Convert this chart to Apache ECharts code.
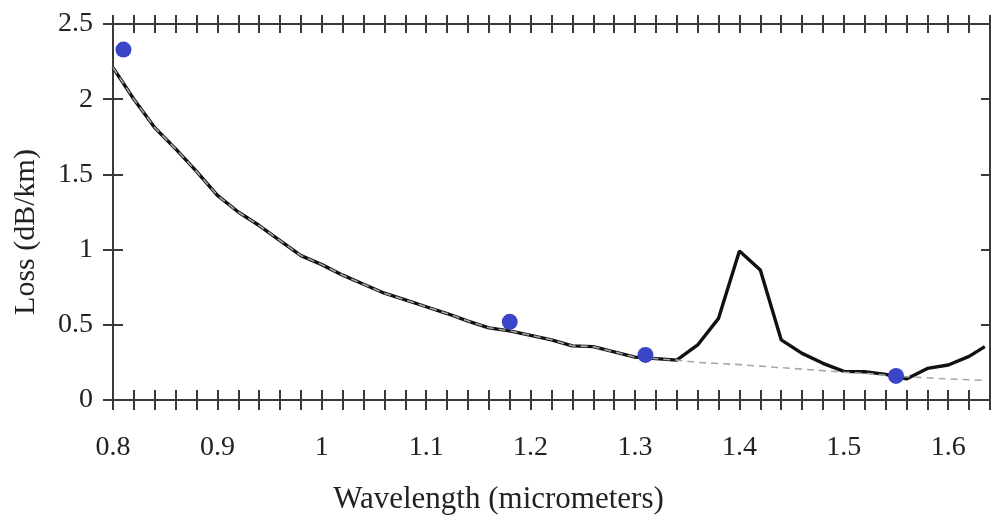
<!DOCTYPE html>
<html>
<head>
<meta charset="utf-8">
<script src="https://cdn.jsdelivr.net/npm/echarts@6/dist/echarts.min.js"></script>
<style>
html,body{margin:0;padding:0;background:#fff;}
#chart{width:993px;height:527px;}
</style>
</head>
<body>
<div id="chart"></div>
<script>
// Wavelength samples (micrometers)
var wavelength = [0.80,0.82,0.84,0.86,0.88,0.90,0.92,0.94,0.96,0.98,1.00,1.02,1.04,1.06,1.08,1.10,1.12,1.14,1.16,1.18,1.20,1.22,1.24,1.26,1.28,1.30,1.32,1.34,1.36,1.38,1.40,1.42,1.44,1.46,1.48,1.50,1.52,1.54,1.56,1.58,1.60,1.62,1.635];
// Measured fibre loss (dB/km)
var lossMeasured = [2.21,2.00,1.81,1.67,1.52,1.36,1.25,1.16,1.06,0.96,0.90,0.83,0.77,0.71,0.665,0.62,0.575,0.525,0.48,0.46,0.43,0.40,0.36,0.355,0.32,0.285,0.275,0.265,0.366,0.543,0.99,0.864,0.40,0.31,0.244,0.19,0.188,0.17,0.14,0.21,0.233,0.29,0.355];
// Scattering baseline (dB/km), dashed grey
var lossBaseline = [2.21,2.00,1.81,1.67,1.52,1.36,1.25,1.16,1.06,0.96,0.90,0.83,0.77,0.71,0.665,0.62,0.575,0.525,0.48,0.46,0.43,0.40,0.36,0.355,0.32,0.285,0.275,0.265,0.25,0.243,0.235,0.225,0.215,0.205,0.195,0.185,0.177,0.165,0.155,0.147,0.14,0.135,0.13];
// Highlighted points
var dotWavelength = [0.81,1.18,1.31,1.55];
var dotLoss = [2.33,0.52,0.30,0.16];
// Axis settings
var xMin = 0.8, xMax = 1.64, xStep = 0.02;
var yMin = 0, yMax = 2.5, yStep = 0.5;

function pairs(xs, ys){ return xs.map(function(x,i){ return [x, ys[i]]; }); }

var FONT = 'Liberation Serif';
var AX = '#3a3a3a';
function xLabel(v){
  var h = Math.round(v*100);
  if (h % 10 !== 0) return '';
  return String(Math.round(v*10)/10);
}

var chart = echarts.init(document.getElementById('chart'), null, {renderer:'canvas'});
var xBase = {type:'value', min:xMin, max:xMax, interval:xStep, splitLine:{show:false}};
var yBase = {type:'value', min:yMin, max:yMax, interval:yStep, splitLine:{show:false}};
chart.setOption({
  animation:false,
  backgroundColor:'#fff',
  grid:{left:113, right:3, top:24, bottom:127, containLabel:false},
  xAxis:[
    Object.assign({}, xBase, {position:'bottom',
      axisLine:{show:true, onZero:false, lineStyle:{color:AX, width:2}},
      axisTick:{show:true, inside:false, length:10, lineStyle:{color:AX, width:2}},
      axisLabel:{show:true, margin:34, formatter:xLabel, color:'#222', fontFamily:FONT, fontSize:28},
      name:'Wavelength (micrometers)', nameLocation:'middle', nameGap:84,
      nameTextStyle:{color:'#222', fontFamily:FONT, fontSize:31, padding:[0,106,0,0]}}),
    Object.assign({}, xBase, {position:'bottom',
      axisLine:{show:false, onZero:false},
      axisTick:{show:true, inside:true, length:10, lineStyle:{color:AX, width:2}},
      axisLabel:{show:false}}),
    Object.assign({}, xBase, {position:'top',
      axisLine:{show:true, onZero:false, lineStyle:{color:AX, width:2}},
      axisTick:{show:true, inside:false, length:9, lineStyle:{color:AX, width:2}},
      axisLabel:{show:false}}),
    Object.assign({}, xBase, {position:'top',
      axisLine:{show:false, onZero:false},
      axisTick:{show:true, inside:true, length:9, lineStyle:{color:AX, width:2}},
      axisLabel:{show:false}})
  ],
  yAxis:[
    Object.assign({}, yBase, {position:'left',
      axisLine:{show:true, onZero:false, lineStyle:{color:AX, width:2}},
      axisTick:{show:true, inside:false, length:10, lineStyle:{color:AX, width:2}},
      axisLabel:{show:true, margin:20, color:'#222', fontFamily:FONT, fontSize:28},
      name:'Loss (dB/km)', nameLocation:'middle', nameGap:72, nameRotate:90,
      nameTextStyle:{color:'#222', fontFamily:FONT, fontSize:30, padding:[0,40,0,0]}}),
    Object.assign({}, yBase, {position:'left',
      axisLine:{show:false, onZero:false},
      axisTick:{show:true, inside:true, length:10, lineStyle:{color:AX, width:2}},
      axisLabel:{show:false}}),
    Object.assign({}, yBase, {position:'right',
      axisLine:{show:true, onZero:false, lineStyle:{color:AX, width:2}},
      axisTick:{show:true, inside:true, length:9, lineStyle:{color:AX, width:2}},
      axisLabel:{show:false}})
  ],
  series:[
    {type:'line', name:'Measured', xAxisIndex:0, yAxisIndex:0, data:pairs(wavelength, lossMeasured),
     showSymbol:false, symbol:'none', lineStyle:{color:'#111', width:3.4}, z:2},
    {type:'line', name:'Baseline', xAxisIndex:0, yAxisIndex:0, data:pairs(wavelength, lossBaseline),
     showSymbol:false, symbol:'none', lineStyle:{color:'#a8a8a8', width:1.6, type:[7,5]}, z:3},
    {type:'scatter', name:'Points', xAxisIndex:0, yAxisIndex:0, data:pairs(dotWavelength, dotLoss),
     symbol:'circle', symbolSize:16, itemStyle:{color:'#3a45c8', opacity:1}, z:5}
  ]
});
</script>
</body>
</html>
